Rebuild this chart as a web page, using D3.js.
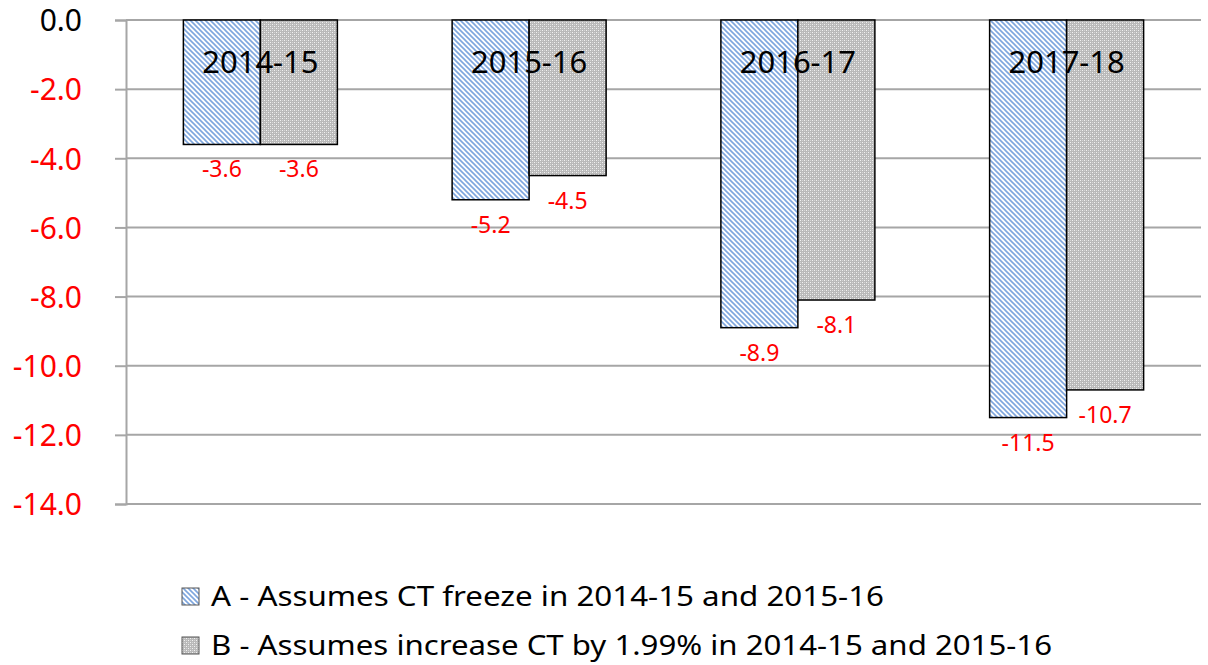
<!DOCTYPE html>
<html><head><meta charset="utf-8">
<script src="https://cdn.jsdelivr.net/npm/d3@7"></script>
<style>html,body{margin:0;padding:0;background:#fff;}svg{display:block;font-family:"Noto Sans",sans-serif;}</style>
</head><body>
<svg id="chart" width="1208" height="665"></svg>
<script>
const categories = ["2014-15","2015-16","2016-17","2017-18"];
const seriesA = [-3.6,-5.2,-8.9,-11.5];
const seriesB = [-3.6,-4.5,-8.1,-10.7];
const seriesNames = ["A - Assumes CT freeze in 2014-15 and 2015-16","B - Assumes increase CT by 1.99% in 2014-15 and 2015-16"];
const tickValues = [0,-2,-4,-6,-8,-10,-12,-14];

const svg = d3.select("#chart");
const defs = svg.append("defs");
const pA = defs.append("pattern").attr("id","patA").attr("patternUnits","userSpaceOnUse").attr("width",5).attr("height",5);
pA.append("rect").attr("width",5).attr("height",5).attr("fill","#fff");
pA.append("path").attr("d","M-1,-1 L6,6 M-1,4 L1,6 M4,-1 L6,1").attr("stroke","#7ea6de").attr("stroke-width",1.6);
const pB = defs.append("pattern").attr("id","patB").attr("patternUnits","userSpaceOnUse").attr("width",4).attr("height",4);
pB.append("rect").attr("width",4).attr("height",4).attr("fill","#b9b9b9");
pB.append("rect").attr("width",1).attr("height",1).attr("fill","#f2f2f2");
pB.append("rect").attr("x",2).attr("y",2).attr("width",1).attr("height",1).attr("fill","#f2f2f2");
pB.append("rect").attr("x",2).attr("y",0).attr("width",1).attr("height",1).attr("fill","#d4d4d4");
pB.append("rect").attr("x",0).attr("y",2).attr("width",1).attr("height",1).attr("fill","#d4d4d4");

const mLeft = 126, mRight = 1201, mTop = 20, mBottom = 504;
const y = d3.scaleLinear().domain([-14,0]).range([mBottom,mTop]);
const p = 0.427;
const x0 = d3.scaleBand().domain(categories).range([mLeft,mRight]).paddingInner(p).paddingOuter(p/2);
const x1 = d3.scaleBand().domain(["A","B"]).range([0,x0.bandwidth()]);
const fmt = v => d3.format(".1f")(v).replace("\u2212","-");

// gridlines
svg.append("g").selectAll("line").data(tickValues).join("line")
  .attr("x1",mLeft).attr("x2",mRight).attr("y1",d=>y(d)).attr("y2",d=>y(d))
  .attr("stroke","#a6a6a6").attr("stroke-width",2);

// axis
const axis = d3.axisLeft(y).tickValues(tickValues).tickSize(11).tickPadding(33).tickFormat(fmt);
const ag = svg.append("g").attr("transform",`translate(${mLeft},0)`).call(axis);
ag.select(".domain").attr("stroke","#a6a6a6").attr("stroke-width",2);
ag.selectAll(".tick line").attr("stroke","#a6a6a6").attr("stroke-width",2);
ag.selectAll(".tick text").attr("font-family","Noto Sans").attr("font-size",30)
  .attr("fill",d=>d===0?"#000":"#ff0000").attr("dy","0.36em");

const data = [];
categories.forEach((c,i)=>{
  data.push({cat:c,s:"A",v:seriesA[i]});
  data.push({cat:c,s:"B",v:seriesB[i]});
});

svg.append("g").selectAll("rect").data(data).join("rect")
  .attr("x",d=>x0(d.cat)+x1(d.s)).attr("width",x1.bandwidth())
  .attr("y",y(0)).attr("height",d=>y(d.v)-y(0))
  .attr("fill",d=>d.s==="A"?"url(#patA)":"url(#patB)")
  .attr("stroke","#000").attr("stroke-width",1.5);

// category labels
svg.append("g").selectAll("text").data(categories).join("text")
  .attr("x",d=>x0(d)+x0.bandwidth()/2).attr("y",73)
  .attr("text-anchor","middle").attr("font-size",31).attr("fill","#000")
  .text(d=>d);

// data labels
svg.append("g").selectAll("text").data(data).join("text")
  .attr("x",d=>x0(d.cat)+x1(d.s)+x1.bandwidth()/2).attr("y",d=>y(d.v)+33)
  .attr("text-anchor","middle").attr("font-size",23).attr("fill","#ff0000")
  .text(d=>fmt(d.v));

// legend
const legendWidths = [673, 841];
const lg = svg.append("g");
seriesNames.forEach((n,i)=>{
  const base = 606 + i*49;
  lg.append("rect").attr("x",182).attr("y",base-18).attr("width",17).attr("height",17)
    .attr("fill",i===0?"url(#patA)":"url(#patB)").attr("stroke","#555").attr("stroke-width",1);
  lg.append("text").attr("x",211).attr("y",base).attr("font-size",27).attr("fill","#000")
    .attr("textLength",legendWidths[i]).attr("lengthAdjust","spacingAndGlyphs").text(n);
});
</script>
</body></html>
